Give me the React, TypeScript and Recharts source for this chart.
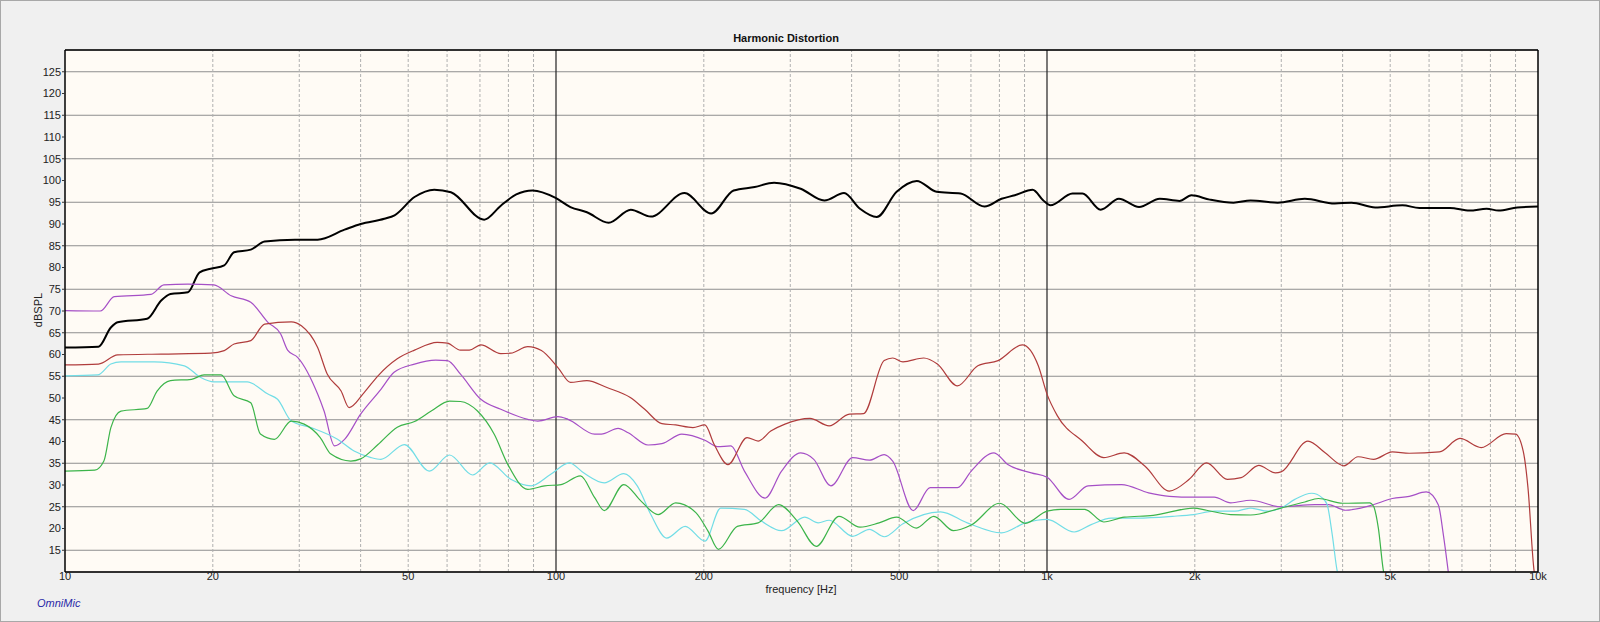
import React from 'react';
import { LineChart, Line, XAxis, YAxis, CartesianGrid, ReferenceLine } from 'recharts';

// [frequency Hz, dBSPL]
const fundamental: [number, number][] = [
  [10, 61.6], [11.7, 61.8], [12.4, 66.2], [12.8, 67.4], [14.7, 68.2], [15.7, 72.4], [16.4, 73.9], [17.8, 74.3],
  [18.8, 78.9], [19.8, 79.7], [21.1, 80.5], [22.1, 83.5], [23.9, 84.1], [25.5, 86], [29.4, 86.4], [32.7, 86.4],
  [37.1, 88.7], [40, 90], [44.7, 91.2], [46.9, 92], [51.5, 96.2], [56.5, 97.9], [61.1, 97.3], [71.4, 91],
  [77.2, 94.2], [83, 96.8], [89.6, 97.7], [99.8, 96], [107, 93.9], [115.6, 92.7], [128, 90.3], [142, 93.3],
  [156, 91.7], [182.6, 97.1], [207, 92.4], [230, 97.7], [254, 98.5], [278, 99.5], [315, 98.1], [352, 95.4],
  [386, 97.1], [416, 93.5], [450, 91.6], [494, 97.4], [543, 99.9], [596, 97.4], [667, 97], [746, 94],
  [808, 95.8], [860, 96.6], [935, 97.9], [983, 95.4], [1016, 94.3], [1127, 97], [1181, 97], [1286, 93.3],
  [1401, 95.8], [1540, 93.9], [1697, 95.8], [1862, 95.3], [1968, 96.6], [2146, 95.6], [2398, 94.9],
  [2598, 95.4], [2950, 94.9], [3350, 95.8], [3857, 94.7], [4170, 94.9], [4660, 93.8], [5295, 94.3],
  [5735, 93.7], [6618, 93.7], [7254, 93.1], [7859, 93.5], [8311, 93.1], [9075, 93.8], [10000, 94],
];

const harm2: [number, number][] = [
  [10, 70.1], [11.8, 70], [12.6, 73.3], [14.97, 73.8], [15.9, 76], [17.8, 76.2], [20.1, 76], [21.8, 73.5],
  [23.9, 72], [25.9, 67.4], [27.5, 64.7], [28.4, 61], [29.8, 59.3], [32.7, 50.9], [33.7, 47], [35.4, 39],
  [37.1, 40.5], [40, 46.3], [44, 52], [46.8, 55.9], [51.5, 57.8], [56.9, 58.7], [60.1, 58.6], [63.9, 55.5],
  [70.3, 49.7], [77.2, 47.4], [87.6, 45.1], [91.8, 44.7], [100.9, 45.7], [105.8, 45.1], [119.9, 41.7],
  [123.7, 41.7], [133.8, 43], [140.3, 42], [154, 39.2], [164.3, 39.5], [180.4, 41.7], [201, 40.3],
  [213.2, 38.8], [227, 39], [242, 33.2], [266.6, 27], [288, 33.2], [315, 37.4], [335, 35.9], [363, 29.8],
  [402, 36.3], [435, 35.7], [466, 37], [485, 35.5], [534, 24.1], [578, 29.4], [657, 29.4], [701, 33.2],
  [780, 37.4], [832, 34.7], [929, 32.8], [1000, 31.8], [1109, 26.7], [1212, 29.8], [1419, 30.1],
  [1610, 28.2], [1775, 27.4], [1990, 27.2], [2191, 27.2], [2366, 25.9], [2598, 26.5], [2997, 25],
  [3512, 25.5], [3744, 25.5], [4054, 24.2], [4600, 25.4], [5050, 26.9], [5467, 27.4], [5920, 28.4],
  [6268, 25.4], [6415, 18.6], [6600, 8],
];

const harm3: [number, number][] = [
  [10, 57.6], [11.7, 57.8], [12.8, 59.9], [15.7, 60.1], [19.8, 60.3], [21.1, 60.9], [22.1, 62.4], [23.9, 63.2],
  [25.5, 67], [28.9, 67.5], [30.3, 66.6], [32.7, 61.6], [34.2, 55.5], [36.5, 51.6], [37.9, 47.8], [40.7, 51.3],
  [43.4, 55.1], [47.5, 59], [51.5, 61], [57.3, 62.8], [60.1, 62.6], [63.9, 61], [66.6, 61], [70.3, 62.2],
  [77.2, 60.2], [80.9, 60.3], [87.6, 61.8], [93.4, 60.9], [100.9, 57], [107, 53.6], [115.6, 54], [127, 52.4],
  [141.7, 50.1], [151.6, 47.4], [164.3, 44.1], [175.3, 43.8], [190, 43.2], [201, 43.8], [210, 39.3],
  [224, 34.7], [245, 40.9], [258, 40.1], [273.8, 42.4], [292.6, 44], [329, 45.3], [360, 43.6], [396, 46.3],
  [423, 46.4], [466, 58.6], [485, 59.2], [509, 58.3], [561, 59.2], [598, 57.8], [657, 52.8], [723, 57.4],
  [795, 58.6], [891, 62.2], [960, 57.4], [1000, 50.9], [1050, 45.9], [1180, 40.1], [1305, 36.3],
  [1436, 37.4], [1584, 34.3], [1775, 28.6], [1948, 31.3], [2113, 35.1], [2330, 31.3], [2486, 31.7],
  [2700, 34.5], [2916, 32.8], [2997, 33], [3400, 40.1], [3685, 37.4], [4024, 34.4], [4300, 36.5],
  [4625, 35.9], [5050, 37.6], [5467, 37.3], [6300, 37.6], [6935, 40.7], [7660, 38.6], [8614, 41.8],
  [9000, 41.7], [9330, 37.8], [9540, 29.4], [9820, 10.2], [9900, 8],
];

const harm4: [number, number][] = [
  [10, 55.1], [11.66, 55.3], [12.4, 57.8], [13, 58.3], [15.2, 58.3], [17.5, 57.4], [18.9, 54.7], [20.1, 53.7],
  [23.5, 53.7], [25.9, 50.9], [27.1, 49.7], [28.9, 44.7], [31.7, 43.2], [35.9, 40.5], [38.8, 37.8], [42, 36.3],
  [44, 35.9], [49.1, 39.3], [55.2, 33.2], [60.7, 36.9], [67.6, 32.3], [73.3, 35.1], [80.9, 31.3], [89, 29.8],
  [97.4, 32.4], [106.4, 35.1], [113.8, 32.8], [125.4, 30.5], [137.4, 32.6], [146.4, 29.8], [156, 23.2],
  [168, 17.8], [183.3, 20.5], [201, 17.1], [216.5, 24.7], [242, 24.4], [262, 21.7], [288, 19.5],
  [321, 22.6], [342, 21.3], [360, 21.9], [402, 18.2], [435, 19.8], [466, 18.1], [509, 21.1], [607, 23.8],
  [688, 21.3], [808, 19], [904, 21.3], [1000, 22.1], [1136, 19.2], [1230, 20.9], [1352, 22.4], [1530, 22.4],
  [1802, 22.8], [1990, 23.2], [2191, 24], [2413, 24], [2598, 24.7], [2814, 24], [2997, 24.7], [3197, 26.7],
  [3460, 28.1], [3630, 27.1], [3720, 25.5], [3810, 18.6], [3900, 10.2], [3950, 8],
];

const harm5: [number, number][] = [
  [10, 33.2], [11.5, 33.4], [12, 35.5], [12.4, 43.2], [13, 47], [14.7, 47.6], [15.4, 51.6], [16.4, 54],
  [18.1, 54.3], [19.2, 55.3], [20.8, 55.3], [22.1, 50.5], [23.9, 48.9], [25, 41.7], [26.7, 40.5], [28.9, 44.7],
  [30.7, 44], [33.1, 40.9], [34.8, 37.1], [38.2, 35.5], [40, 36], [43.4, 39.3], [47.5, 43.3], [51.5, 44.6],
  [55.7, 47], [60.7, 49.3], [63.9, 49.2], [69.2, 47], [74.9, 41.6], [79.7, 34.8], [87.6, 29], [94.8, 29.8],
  [102.4, 30.1], [112.1, 32.1], [119.9, 27.1], [125.4, 24.1], [137.4, 30.1], [149, 26.3], [161.4, 23.2],
  [175.3, 25.9], [192.9, 23.6], [204, 19.4], [214.2, 15.2], [234, 20.5], [258, 21.3], [284, 25.5],
  [310, 21.7], [339, 15.9], [377, 22.8], [416, 20.3], [455, 21.3], [494, 22.6], [542, 20.1], [588, 22.8],
  [645, 19.5], [701, 20.8], [801, 25.8], [904, 21.2], [1000, 24], [1067, 24.4], [1193, 24.4], [1305, 21.5],
  [1436, 22.6], [1645, 23], [1990, 24.7], [2113, 24.2], [2366, 23.2], [2598, 23.1], [2997, 24.7],
  [3350, 26.1], [3570, 26.9], [4000, 25.8], [4540, 25.9], [4625, 25.1], [4730, 20.1], [4845, 10.2], [4900, 8],
];

const xTicks = [10, 20, 50, 100, 200, 500, 1000, 2000, 5000, 10000];
const yTicks = [15, 20, 25, 30, 35, 40, 45, 50, 55, 60, 65, 70, 75, 80, 85, 90, 95, 100, 105, 110, 115, 120, 125];
const minorFreqs = [
  20, 30, 40, 50, 60, 70, 80, 90,
  200, 300, 400, 500, 600, 700, 800, 900,
  2000, 3000, 4000, 5000, 6000, 7000, 8000, 9000,
];
const majorFreqs = [100, 1000];

const toRows = (pts: [number, number][]) => pts.map(([f, v]) => ({ f, v }));

const series = [
  { name: 'fundamental', pts: fundamental, color: '#000000', width: 2 },
  { name: 'h2', pts: harm2, color: '#a54fc6', width: 1.2 },
  { name: 'h3', pts: harm3, color: '#b03c3c', width: 1.2 },
  { name: 'h4', pts: harm4, color: '#72dde6', width: 1.2 },
  { name: 'h5', pts: harm5, color: '#3cb44a', width: 1.2 },
];

const fmtFreq = (v: number) => (v >= 1000 ? `${v / 1000}k` : `${v}`);

const font = '"Liberation Sans", Arial, sans-serif';

export default function App() {
  return (
    <div
      style={{
        position: 'absolute',
        left: 0,
        top: 0,
        width: 1600,
        height: 622,
        background: '#f0f0f0',
        boxSizing: 'border-box',
        border: '1px solid #a8a8a8',
        fontFamily: font,
      }}
    >
      <div style={{ position: 'absolute', left: 0, top: 0 }}>
        <LineChart width={1600} height={622} margin={{ top: 49, right: 63, bottom: 31, left: 24 }}>
          <CartesianGrid vertical={false} stroke="#8e8e8e" strokeWidth={1.2} fill="#fffbf5" />
          <XAxis
            dataKey="f"
            type="number"
            scale="log"
            domain={[10, 10000]}
            ticks={xTicks}
            tickFormatter={fmtFreq}
            allowDataOverflow
            height={20}
            tickLine={false}
            tickSize={0}
            tickMargin={0}
            axisLine={{ stroke: '#000', strokeWidth: 1.5 }}
            tick={{ fontSize: 11, fill: '#222', fontFamily: font }}
          />
          <YAxis
            type="number"
            domain={[10, 130]}
            ticks={yTicks}
            allowDataOverflow
            width={40}
            tickSize={3}
            tickMargin={1}
            tickLine={{ stroke: '#333' }}
            axisLine={{ stroke: '#000', strokeWidth: 1.5 }}
            tick={{ fontSize: 11, fill: '#222', fontFamily: font }}
          />
          {minorFreqs.map((f) => (
            <ReferenceLine key={`m${f}`} x={f} stroke="#b0b0b0" strokeDasharray="3 2" />
          ))}
          {majorFreqs.map((f) => (
            <ReferenceLine key={`M${f}`} x={f} stroke="#222" strokeWidth={1.2} />
          ))}
          <ReferenceLine y={130} stroke="#000" strokeWidth={1.5} />
          <ReferenceLine x={10000} stroke="#000" strokeWidth={1.5} />
          {series.map((s) => (
            <Line
              key={s.name}
              data={toRows(s.pts)}
              dataKey="v"
              type="monotone"
              stroke={s.color}
              strokeWidth={s.width}
              dot={false}
              activeDot={false}
              isAnimationActive={false}
            />
          ))}
        </LineChart>
      </div>
      <div
        style={{
          position: 'absolute',
          left: 685,
          width: 200,
          top: 31,
          textAlign: 'center',
          fontSize: 11,
          fontWeight: 'bold',
          color: '#111',
        }}
      >
        Harmonic Distortion
      </div>
      <div
        style={{
          position: 'absolute',
          left: 700,
          width: 200,
          top: 582,
          textAlign: 'center',
          fontSize: 11,
          color: '#222',
        }}
      >
        frequency [Hz]
      </div>
      <div
        style={{
          position: 'absolute',
          left: 15,
          top: 303,
          width: 44,
          textAlign: 'center',
          fontSize: 11,
          color: '#222',
          transform: 'rotate(-90deg)',
        }}
      >
        dBSPL
      </div>
      <div
        style={{
          position: 'absolute',
          left: 36,
          top: 596,
          fontSize: 11,
          fontStyle: 'italic',
          color: '#2a2aa8',
        }}
      >
        OmniMic
      </div>
    </div>
  );
}
